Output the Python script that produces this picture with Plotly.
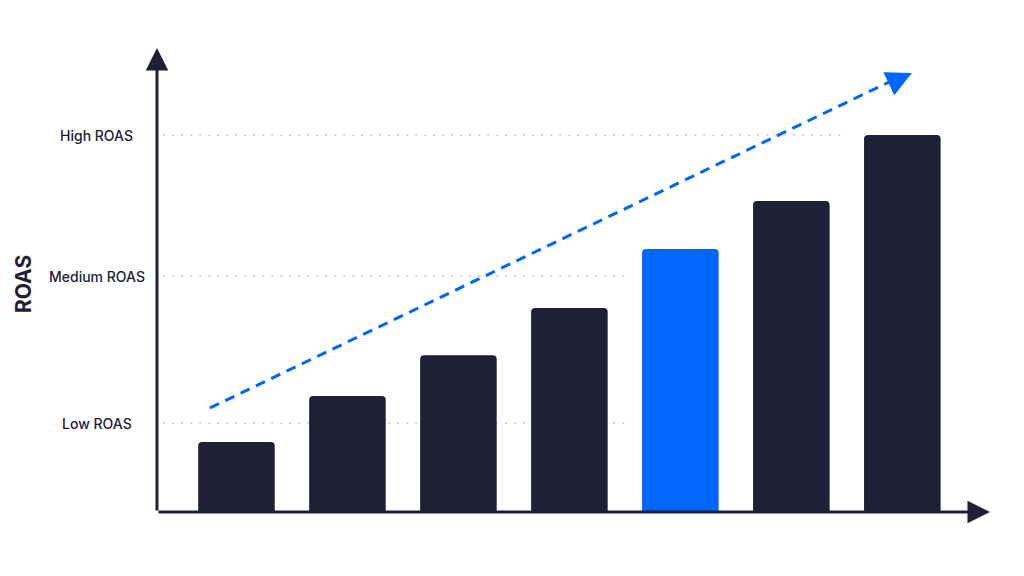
import plotly.graph_objects as go

# Data
categories = ["1", "2", "3", "4", "5", "6", "7"]
roas_index = [18.6, 30.8, 41.6, 54.1, 69.8, 82.5, 100.0]
highlight_index = 4
tick_values = [23.6, 62.6, 100.0]
tick_labels = ["Low ROAS", "Medium ROAS", "High ROAS"]
grid_end = [3.5, 3.5, 5.5]  # category position where each dotted guide ends

NAVY = "#1f2036"
BLUE = "#0066ff"
GRID = "#c5cad8"
FONT = "Inter"

colors = [BLUE if i == highlight_index else NAVY for i in range(len(categories))]
xpos = list(range(len(categories)))

fig = go.Figure()
fig.add_trace(go.Bar(
    x=xpos, y=roas_index, marker=dict(color=colors, line=dict(width=0)),
    width=0.69, hoverinfo="skip", showlegend=False,
))

shapes = []
for tv, ge in zip(tick_values, grid_end):
    shapes.append(dict(type="line", xref="x", yref="y", x0=-0.66, x1=ge, y0=tv, y1=tv,
                       line=dict(color=GRID, width=1.6, dash="2px,7px"), layer="below"))
# dashed trend line
shapes.append(dict(type="line", xref="x", yref="y", x0=-0.239, y0=27.6, x1=5.96, y1=115.2,
                   line=dict(color=BLUE, width=3, dash="10px,7px"), layer="above"))

annotations = [
    # y axis with arrow
    dict(xref="paper", yref="paper", x=0, y=1, ax=0, ay=464, axref="pixel", ayref="pixel",
         showarrow=True, arrowhead=2, arrowsize=1.5, arrowwidth=3, arrowcolor=NAVY, text=""),
    # x axis with arrow
    dict(xref="paper", yref="paper", x=1, y=0, ax=-833, ay=0, axref="pixel", ayref="pixel",
         showarrow=True, arrowhead=2, arrowsize=1.5, arrowwidth=3, arrowcolor=NAVY, text=""),
    # trend arrow head
    dict(xref="x", yref="y", x=6.086, y=116.5, ax=-16, ay=7.6, axref="pixel", ayref="pixel",
         showarrow=True, arrowhead=2, arrowsize=1.7, arrowwidth=3, arrowcolor=BLUE, text=""),
    # y title
    dict(xref="paper", yref="paper", x=(23 - 157) / 833, y=(512 - 284) / 464, text="<b>ROAS</b>",
         textangle=-90, showarrow=False, font=dict(family=FONT, size=21, color=NAVY),
         xanchor="center", yanchor="middle"),
]
# centred level labels
for tv, tl in zip(tick_values, tick_labels):
    annotations.append(dict(xref="paper", yref="y", x=(96.5 - 157) / 833, y=tv, text=tl,
                            showarrow=False, xanchor="center", yanchor="middle",
                            font=dict(family=FONT, size=14, color=NAVY, weight=500)))

fig.update_layout(
    width=1024, height=576,
    margin=dict(l=149, r=42, t=40, b=72),
    paper_bgcolor="white", plot_bgcolor="white",
    barcornerradius=4,
    shapes=shapes, annotations=annotations,
    font=dict(family=FONT, color=NAVY),
    xaxis=dict(range=[-0.716, 6.79], showgrid=False, zeroline=False, showline=False,
               showticklabels=False, ticks="", fixedrange=True),
    yaxis=dict(range=[0, 123.1], showgrid=False, zeroline=False, showline=False,
               tickvals=tick_values, showticklabels=False, ticks="", fixedrange=True),
)

fig.write_html("out.html")
